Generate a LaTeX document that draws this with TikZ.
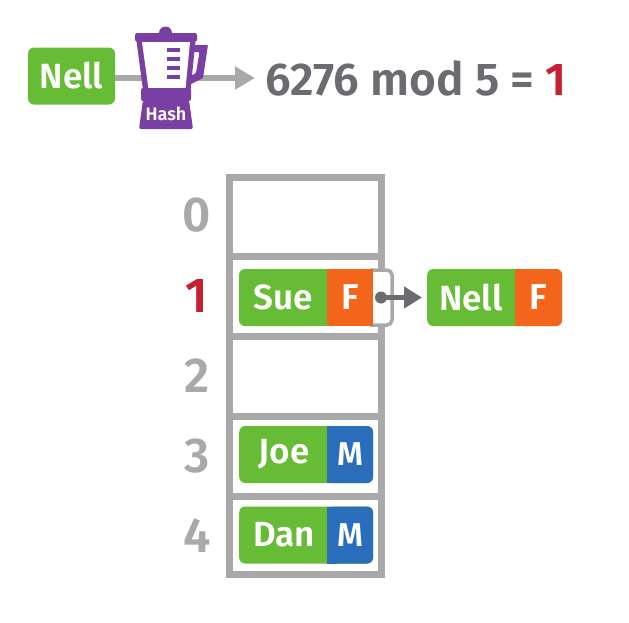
\documentclass[tikz,border=0pt]{standalone}
\usepackage{fontspec}
\setmainfont[BoldFont={Fira Sans SemiBold}]{Fira Sans}
\usetikzlibrary{arrows.meta}
\definecolor{cgreen}{HTML}{67BC35}
\definecolor{corange}{HTML}{F4651C}
\definecolor{cblue}{HTML}{2A6EBB}
\definecolor{cpurple}{HTML}{7A3FA3}
\definecolor{cgray}{HTML}{A9A9A9}
\definecolor{cdark}{HTML}{6B6B70}
\definecolor{cred}{HTML}{C4202F}
\tikzset{
  x=1pt,y=-1pt,
  recbox/.style={fill=cgreen,rounded corners=6pt,inner sep=0pt,minimum height=57pt,text=white,font=\fontsize{35}{35}\selectfont\bfseries},
  tagtext/.style={inner sep=0pt,text=white,font=\fontsize{36}{36}\selectfont\bfseries},
  idx/.style={inner sep=0pt,text=cgray,font=\fontsize{49}{49}\selectfont\bfseries},
  grid/.style={draw=cgray,line width=7pt},
}
\begin{document}
\begin{tikzpicture}
\useasboundingbox (0,0) rectangle (629,622);
% top row
\node[recbox,minimum width=87pt] (nell) at (71.5,76) {Nell};
\node[inner sep=0pt,anchor=west,text=cdark,font=\fontsize{46}{46}\selectfont\bfseries] (expr) at (265,78) {6276 mod 5 = \textcolor{cred}{1}};
\node[inner sep=0pt,text=white,font=\fontsize{18}{18}\selectfont\bfseries] (hash) at (166,114) {\phantom{Hash}};
\draw[cgray,line width=6pt,-{Triangle[length=20pt,width=22pt]},shorten >=10pt] (nell.east|-expr) -- (expr.west);
% blender
\fill[cpurple,rounded corners=1pt] (193,45) -- (208,45) -- (203,78) -- (187,86) -- (185,79) -- (196,73) -- (199.5,52) -- (192,52) -- cycle;
\fill[cpurple] (136.5,41) -- (195.5,41) -- (190.5,90) -- (143,90) -- cycle;
\fill[white] (142,42) -- (190,42) -- (185.5,89) -- (148.5,89) -- cycle;
\fill[cpurple,rounded corners=1.5pt] (135,33) rectangle (197,41.5);
\fill[cpurple] (165.5,33) ellipse [x radius=6.5pt,y radius=6.5pt];
\fill[cpurple,rounded corners=2pt] (141,88) rectangle (191,101);
\fill[cpurple,rounded corners=2pt] (143,100) -- (189,100) -- (193,129) -- (139,129) -- cycle;
\foreach \yy in {50,59,68,77}{\fill[cpurple] (167,\yy-1.8) rectangle (180,\yy+1.8);}
\node[inner sep=0pt,text=white,font=\fontsize{18}{18}\selectfont\bfseries] at (hash) {Hash};
% table
\draw[grid] (229.5,177.5) rectangle (381.5,574);
\foreach \yy in {256,336,416,496}{\draw[grid] (229.5,\yy) -- (381.5,\yy);}
\node[idx] (i0) at (197,215) {0};
\node[idx,text=cred] (i1) at (197,296) {1};
\node[idx] (i2) at (197,376) {2};
\node[idx] (i3) at (197,456) {3};
\node[idx] (i4) at (197,536) {4};
% nub
\fill[white] (370,270) rectangle (392,325);
\draw[cgray,line width=3.5pt,rounded corners=5pt] (370,270) -- (392,270) -- (392,325) -- (370,325);
% Sue
\fill[cgreen,rounded corners=6pt] (239,269) -- (335,269) -- (335,326) -- (239,326) -- cycle;
\fill[corange] (327,269) rectangle (373,326);
\node[recbox,fill=none,minimum width=88pt,anchor=west] (sue) at (239,297.5) {};
\node[tagtext,font=\fontsize{35}{35}\selectfont\bfseries] at (283,297.5) {Sue};
\node[tagtext] (suef) at (350,297.5) {F};
% Nell F
\node[recbox,minimum width=135pt,anchor=west] (nellf) at (427,297.5) {};
\fill[corange,rounded corners=6pt] (515,269) -- (562,269) -- (562,326) -- (515,326) -- cycle;
\fill[corange] (515,269) rectangle (525,326);
\node[tagtext,font=\fontsize{35}{35}\selectfont\bfseries] at (471,297.5) {Nell};
\node[tagtext] at (538.5,297.5) {F};
% Joe
\node[recbox,minimum width=134pt,anchor=west] (joe) at (239,454.5) {};
\fill[cblue,rounded corners=6pt] (327,426) -- (373,426) -- (373,483) -- (327,483) -- cycle;
\fill[cblue] (327,426) rectangle (337,483);
\node[tagtext,font=\fontsize{35}{35}\selectfont\bfseries] at (284,454.5) {Joe};
\node[tagtext,font=\fontsize{33}{33}\selectfont\bfseries] at (350,454.5) {M};
% Dan
\node[recbox,minimum width=134pt,anchor=west] (dan) at (239,535) {};
\fill[cblue,rounded corners=6pt] (327,506.5) -- (373,506.5) -- (373,563.5) -- (327,563.5) -- cycle;
\fill[cblue] (327,506.5) rectangle (337,563.5);
\node[tagtext,font=\fontsize{35}{35}\selectfont\bfseries] at (284,535) {Dan};
\node[tagtext,font=\fontsize{33}{33}\selectfont\bfseries] at (350,535) {M};
% pointer
\coordinate (ptr) at (381,297.5);
\fill[cdark] (ptr) circle [radius=6pt];
\draw[cdark,line width=4.5pt,-{Triangle[length=18pt,width=21pt]},shorten >=5pt] (ptr) -- (nellf.west);
\end{tikzpicture}
\end{document}
